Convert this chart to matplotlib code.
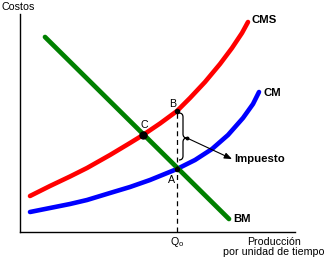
import matplotlib
matplotlib.use('Agg')
import matplotlib.pyplot as plt
from matplotlib.path import Path
from matplotlib.patches import PathPatch

plt.rcParams['font.family'] = ['Liberation Sans', 'DejaVu Sans']

# Data (x: production, y: cost)
cms_x = [10, 30, 50, 67, 90, 110, 123, 140, 157, 170, 185, 200, 212, 222, 228]
cms_y = [36, 46, 55.5, 64, 77, 89, 97, 108.5, 121, 134, 150, 168, 184, 199, 210]
cm_x = [10, 30, 50, 67, 90, 110, 130, 157, 175, 192, 208, 223, 233, 239]
cm_y = [20, 24, 28, 32, 39, 45, 52, 63, 72, 83, 97, 114, 128, 140]
bm_x = [25, 209]
bm_y = [195, 13]
q0 = 157
point_c = (123, 97)
point_b = (157, 121)
point_a = (157, 63)
curve_labels = ['CMS', 'CM', 'BM']

W, H = 327, 262
fig = plt.figure(figsize=(W / 100, H / 100), dpi=100)
ax = fig.add_axes([20 / W, (H - 232) / H, 275 / W, 218 / H])
ax.set_xlim(0, 275)
ax.set_ylim(0, 218)
for s in ['top', 'right']:
    ax.spines[s].set_visible(False)
for s in ['left', 'bottom']:
    ax.spines[s].set_linewidth(1.0)
    ax.spines[s].set_color('black')
ax.set_xticks([])
ax.set_yticks([])


def P(px, py):
    return (px - 20, 232 - py)


ax.plot(cms_x, cms_y, color='#ff0000', lw=3.3, solid_capstyle='round', solid_joinstyle='round', clip_on=False)
ax.plot(cm_x, cm_y, color='#0000ff', lw=3.3, solid_capstyle='round', solid_joinstyle='round', clip_on=False)
ax.plot(bm_x, bm_y, color='#008000', lw=3.4, solid_capstyle='round', clip_on=False)

# dashed vertical at Q0
ax.plot([q0, q0], [0, point_b[1]], color='black', lw=0.9, ls=(0, (4, 3)))

# points
ax.plot(*point_c, 'o', color='black', ms=5, zorder=5)
ax.plot(*point_b, 'o', color='black', ms=3, zorder=5)
ax.plot(*point_a, 'o', color='black', ms=3, zorder=5)

# brace
verts = [P(179, 113), P(183, 113), P(183, 117), P(183, 134), P(183, 138), P(187, 138),
         P(183, 138), P(183, 142), P(183, 156), P(183, 160), P(179, 160)]
codes = [Path.MOVETO, Path.CURVE3, Path.CURVE3, Path.LINETO, Path.CURVE3, Path.CURVE3,
         Path.CURVE3, Path.CURVE3, Path.LINETO, Path.CURVE3, Path.CURVE3]
ax.add_patch(PathPatch(Path(verts, codes), fill=False, lw=0.9, color='black', clip_on=False))
ax.plot(*P(187, 138), 'o', color='black', ms=1.8, clip_on=False)
ax.annotate('', xy=P(232, 159), xytext=P(187, 138),
            arrowprops=dict(arrowstyle='-|>,head_length=0.45,head_width=0.18', color='black', lw=0.8,
                            shrinkA=0, shrinkB=0), annotation_clip=False)

fs = 8.2
fr = 7.7
ax.text(*P(252, 20), curve_labels[0], fontsize=fs, fontweight='bold', va='center', ha='left', clip_on=False)
ax.text(*P(263, 93), curve_labels[1], fontsize=fs, fontweight='bold', va='center', ha='left', clip_on=False)
ax.text(*P(233, 219), curve_labels[2], fontsize=fs, fontweight='bold', va='center', ha='left', clip_on=False)
ax.text(*P(234, 159), 'Impuesto', fontsize=fs, fontweight='bold', va='center', ha='left', clip_on=False)

ax.text(*P(144, 125), 'C', fontsize=fr, va='center', ha='center', clip_on=False)
ax.text(*P(173, 104), 'B', fontsize=fr, va='center', ha='center', clip_on=False)
ax.text(*P(172, 180), 'A', fontsize=fr, va='center', ha='center', clip_on=False)
ax.text(*P(177, 242), r'Q$_\mathregular{o}$', fontsize=fr, va='center', ha='center', clip_on=False)

ax.text(*P(2, 7), 'Costos', fontsize=fr, va='center', ha='left', clip_on=False)
ax.text(*P(274, 247), 'Producción\npor unidad de tiempo', fontsize=fr, va='center', ha='center',
        linespacing=0.95, clip_on=False)

fig.savefig('out.png', dpi=100)
